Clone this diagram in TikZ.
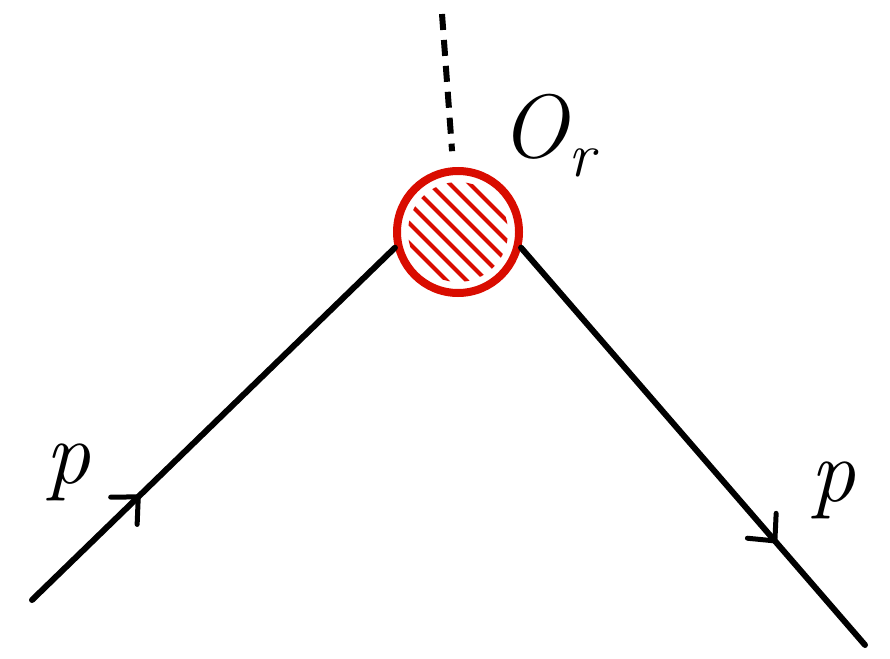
\documentclass[tikz,border=0pt]{standalone}
\usepackage{fontspec}
\usetikzlibrary{arrows.meta,decorations.markings,positioning}
\definecolor{blobred}{HTML}{D90C00}

\tikzset{
  leg/.style={line width=6pt,line cap=round},
  ghostline/.style={line width=6pt,dash pattern=on 16pt off 10pt},
  hatch/.style={draw=blobred,line width=4pt,line cap=round},
  lbl/.style={font=\fontsize{90}{100}\selectfont\itshape,inner sep=0pt},
  midarrow/.style={postaction={decorate},
    decoration={markings,mark=at position #1 with
      {\arrow{Straight Barb[length=20pt,width=38pt,line width=5pt,line cap=round]}}}}
}

\begin{document}
\begin{tikzpicture}[x=1pt,y=-1pt]
\useasboundingbox (0,0) rectangle (890,658);
% vertex blob
\node[circle,draw=blobred,line width=8pt,minimum size=122pt] (blob) at (458,232) {};
\begin{scope}
\clip (blob.center) circle (50pt);
\foreach \d in {-30,-20,...,30}
  \draw[hatch] ([shift={(\d,-\d)}]blob.center) ++(-70,-70) -- ++(140,140);
\end{scope}
% legs
\coordinate (pin) at (32,600);
\coordinate (pout) at (865,645);
\coordinate (ghost) at (442,14);
\draw[leg,midarrow=0.3] (pin) -- (blob.194);
\draw[leg,midarrow=0.745] (blob.346) -- (pout);
\draw[ghostline,shorten >=16pt] (ghost) -- (blob);
% labels
\node[lbl] (pleft) at (68,472) {p};
\node[lbl] (pright) at (833,490) {p};
\node[lbl] (oplabel) at (548,136) {O\textsubscript{r}};
\end{tikzpicture}
\end{document}
